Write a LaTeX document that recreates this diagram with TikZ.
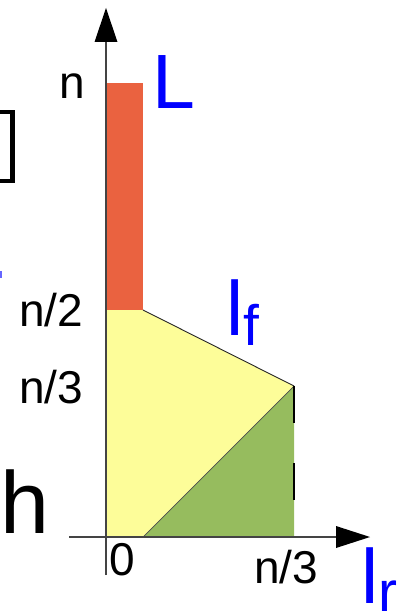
\documentclass[tikz,border=0pt]{standalone}
\usepackage{fontspec}
\setmainfont{Liberation Sans}
\definecolor{redfill}{HTML}{EA6240}
\definecolor{yelfill}{HTML}{FDFD99}
\definecolor{grnfill}{HTML}{96BC5E}
\definecolor{axisgray}{HTML}{444444}
\tikzset{
  axisline/.style={draw=axisgray, line width=1.3pt},
  tick/.style={inner sep=0pt, anchor=base west, font=\fontsize{46}{46}\selectfont},
  bluelbl/.style={inner sep=0pt, anchor=base west, text=blue},
  edge/.style={draw=black!85, line width=0.9pt}
}
\begin{document}
\begin{tikzpicture}[x=1pt,y=-1pt]
\useasboundingbox (0,0) rectangle (404,612);
\clip (0,0) rectangle (404,612);
% regions
\fill[redfill] (107,83) rectangle (143,310);
\fill[yelfill] (107,310) -- (143,310) -- (294,386) -- (143,537) -- (107,537) -- cycle;
\fill[grnfill] (143,537) -- (294,386) -- (294,537) -- cycle;
\coordinate (p1) at (143,310);
\coordinate (p2) at (294,386);
\coordinate (p3) at (143,537);
\coordinate (p4) at (294,537);
\draw[edge] (p1) -- (p2);
\draw[draw=black!70, line width=0.7pt] (p3) -- (p2);
\draw[line width=2pt, dash pattern=on 37pt off 40pt] (p2) -- (p4);
% axes
\coordinate (yb) at (106,575);
\coordinate (yt) at (106,40);
\coordinate (xl) at (69,537);
\coordinate (xr) at (338,537);
\draw[axisline] (yb) -- (yt);
\draw[axisline] (xl) -- (xr);
\fill[black] (106,8) -- (94.5,42) -- (117.5,42) -- cycle;
\fill[black] (370,537) -- (336,526) -- (336,548) -- cycle;
% tick labels
\node[tick] (tn) at (59,99) {n};
\node[tick] (tn2) at (19,326) {n/2};
\node[tick] (tn3) at (19,403) {n/3};
\node[tick] (t0) at (109,575) {0};
\node[tick] (tx3) at (254,583) {n/3};
\node[inner sep=0pt, anchor=base west, font=\fontsize{88}{88}\selectfont] (h) at (0,533) {h};
% blue labels
\node[bluelbl, font=\fontsize{77}{77}\selectfont] (L) at (152,109) {L};
\node[bluelbl] (lf) at (226,335) {\fontsize{77}{77}\selectfont l\raisebox{-10pt}{\fontsize{57}{57}\selectfont f}};
\node[bluelbl] (lr) at (361,603) {\fontsize{77}{77}\selectfont l\raisebox{-8pt}{\fontsize{57}{57}\selectfont r}};
% clipped fragments at the left edge
\draw[line width=4.5pt] (-5,112) -- (12.5,112) -- (12.5,181) -- (-5,181);
\fill[blue!60] (0,271) rectangle (1.5,278);
\end{tikzpicture}
\end{document}
